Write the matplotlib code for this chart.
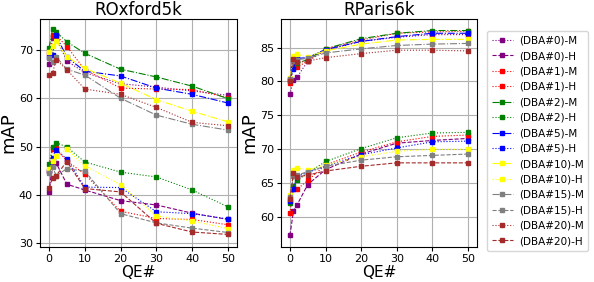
import matplotlib
matplotlib.use("Agg")
import matplotlib.pyplot as plt

qe = [0, 1, 2, 5, 10, 20, 30, 40, 50]
dba_names = ["0", "1", "2", "5", "10", "15", "20"]
colors = ["purple", "red", "green", "blue", "yellow", "gray", "brown"]

# ROxford5k
ox_M = {
    "0":  [67.0, 72.5, 72.5, 67.7, 65.3, 63.0, 62.3, 61.5, 60.6],
    "1":  [69.4, 73.0, 73.0, 70.7, 65.9, 62.1, 61.9, 61.8, 60.1],
    "2":  [70.3, 74.3, 73.7, 71.7, 69.3, 66.0, 64.4, 62.5, 59.9],
    "5":  [68.5, 69.0, 73.0, 68.5, 65.6, 64.6, 62.1, 60.8, 59.0],
    "10": [69.5, 70.8, 71.8, 68.6, 66.2, 63.1, 59.7, 57.3, 55.1],
    "15": [68.4, 67.6, 68.6, 66.0, 64.8, 60.0, 56.5, 54.6, 53.4],
    "20": [64.8, 65.2, 68.0, 65.9, 61.9, 60.8, 58.1, 55.0, 54.3],
}
ox_H = {
    "0":  [40.6, 46.4, 46.6, 42.2, 41.0, 38.8, 37.9, 36.2, 34.9],
    "1":  [45.0, 49.5, 49.6, 47.0, 44.3, 36.6, 35.1, 34.9, 33.8],
    "2":  [46.3, 50.0, 50.8, 49.9, 46.8, 44.7, 43.7, 41.0, 37.5],
    "5":  [44.9, 47.7, 49.3, 47.4, 41.6, 41.5, 36.5, 36.1, 35.0],
    "10": [45.3, 47.1, 48.0, 49.5, 46.0, 42.1, 35.6, 34.6, 33.0],
    "15": [44.5, 45.8, 44.0, 45.4, 44.9, 36.1, 34.2, 33.1, 32.2],
    "20": [41.4, 43.5, 44.0, 46.9, 41.3, 40.6, 34.1, 32.3, 31.8],
}
# RParis6k
pa_M = {
    "0":  [78.1, 80.2, 80.6, 83.0, 84.6, 85.9, 86.5, 86.9, 86.9],
    "1":  [79.7, 82.2, 82.1, 83.0, 84.8, 86.1, 87.1, 87.3, 87.4],
    "2":  [80.3, 82.0, 82.7, 83.2, 84.8, 86.3, 87.1, 87.5, 87.5],
    "5":  [80.2, 81.9, 83.4, 83.5, 84.7, 85.9, 86.6, 87.1, 87.1],
    "10": [80.5, 83.8, 84.0, 83.6, 84.5, 85.5, 86.1, 86.2, 86.2],
    "15": [80.3, 83.0, 83.2, 83.4, 84.2, 84.8, 85.3, 85.5, 85.6],
    "20": [80.0, 83.3, 82.8, 83.0, 83.5, 84.1, 84.6, 84.6, 84.5],
}
pa_H = {
    "0":  [57.3, 60.9, 61.8, 64.8, 67.0, 69.3, 70.9, 71.3, 71.6],
    "1":  [60.6, 64.1, 64.1, 65.4, 67.7, 69.6, 71.1, 71.9, 72.1],
    "2":  [62.1, 64.6, 65.4, 66.5, 68.2, 70.1, 71.7, 72.4, 72.5],
    "5":  [62.4, 64.2, 66.0, 66.6, 67.5, 69.2, 70.2, 71.1, 71.2],
    "10": [63.2, 66.9, 67.2, 67.0, 67.7, 68.9, 69.7, 70.0, 70.0],
    "15": [62.9, 66.0, 66.2, 66.7, 67.5, 68.4, 68.9, 69.1, 69.3],
    "20": [62.7, 66.5, 65.9, 66.2, 66.8, 67.5, 68.0, 68.0, 68.0],
}

styles_M = [":", ":", "-.", "-.", "-.", "-.", ":"]
styles_H = ["--", ":", ":", ":", ":", "--", "--"]

fig = plt.figure(figsize=(5.94, 2.82), dpi=100)
ax1 = fig.add_axes([40/594, 1-247/282, 197/594, 228/282])
ax2 = fig.add_axes([281/594, 1-247/282, 196/594, 228/282])

handles = []
for ax, M, H, title, ylim, yticks in [
    (ax1, ox_M, ox_H, "ROxford5k", (29.2, 76.4), [30, 40, 50, 60, 70]),
    (ax2, pa_M, pa_H, "RParis6k", (55.6, 89.2), [60, 65, 70, 75, 80, 85]),
]:
    hs = []
    for i, d in enumerate(dba_names):
        hm, = ax.plot(qe, M[d], color=colors[i], linestyle=styles_M[i], lw=0.8,
                      marker="s", markersize=2.5, label=f"(DBA#{d})-M")
        hh, = ax.plot(qe, H[d], color=colors[i], linestyle=styles_H[i], lw=0.8,
                      marker="s", markersize=3, label=f"(DBA#{d})-H")
        hs += [hm, hh]
    handles = hs
    ax.set_title(title, fontsize=12, pad=3)
    ax.set_xlabel("QE#", fontsize=11, labelpad=1)
    ax.set_ylabel("mAP", fontsize=13, labelpad=1)
    ax.set_xlim(-2.5, 52.5)
    ax.set_ylim(*ylim)
    ax.set_xticks([0, 10, 20, 30, 40, 50])
    ax.set_yticks(yticks)
    ax.tick_params(labelsize=8, length=3, pad=2)
    ax.grid(True, color="#b0b0b0", lw=0.8)
    ax.set_axisbelow(True)

fig.legend(handles=handles, loc="upper left", bbox_to_anchor=(487/594, 1-31/282),
           fontsize=7.5, frameon=True, handlelength=2.0, labelspacing=0.52,
           borderpad=0.45, handletextpad=0.6, borderaxespad=0)

fig.savefig("out.png", dpi=100)
